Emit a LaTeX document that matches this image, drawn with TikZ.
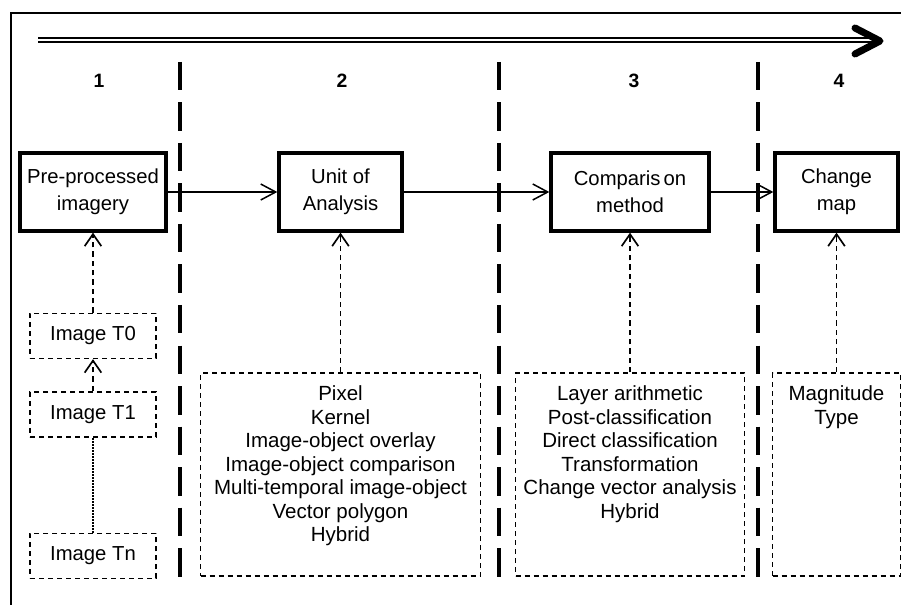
\documentclass[tikz,border=0pt]{standalone}
\usepackage{fontspec}
\setmainfont{Liberation Sans}
\usetikzlibrary{arrows.meta,positioning}

\begin{document}
\begin{tikzpicture}[
            x=0.3mm, y=-0.3mm,
            node distance=10mm,
            stage/.style={rectangle, draw, line width=1mm, minimum height=23.4mm, inner sep=0pt, align=center, font=\fontsize{17.3}{23}\selectfont},
            imgbox/.style={rectangle, draw, line width=0.45mm, dash pattern=on 1.5mm off 1.2mm, minimum width=37.8mm, minimum height=13.5mm, font=\fontsize{17.3}{20}\selectfont},
            listbox/.style={rectangle, draw, line width=0.45mm, dash pattern=on 1.5mm off 1.2mm, inner xsep=0pt, inner ysep=3.9mm, font=\fontsize{17.5}{20}\selectfont},
            flow/.style={-{Straight Barb[length=4.5mm,width=4.8mm]}, line width=0.45mm},
            feed/.style={-{Straight Barb[length=3.6mm,width=5mm]}, line width=0.5mm, dash pattern=on 1.6mm off 1.2mm},
            divider/.style={line width=1.05mm, dash pattern=on 8.55mm off 3.6mm},
            stepnum/.style={font=\fontsize{16.5}{18}\selectfont\bfseries}
        ]
            \useasboundingbox (0,0) rectangle (901,605);
            \draw[line width=0.6mm] (11,605) |- (901,13);

            % time arrow on top
            \coordinate (tl) at (38,40);
            \coordinate (tr) at (879,40);
            \coordinate (tip) at (880,41);
            \draw[line width=0.69mm, double, double distance=0.6mm] (tl) -- (tr);
            \draw[line width=2.1mm, line cap=round, line join=round] (855,28) -- (tip) -- (855,54);

            \foreach \n/\x in {1/99,2/342,3/634,4/839}
                \node[stepnum] (n\n) at (\x,81) {\n};
            \foreach \x in {180,499,758}
                \draw[divider] (\x,62) -- (\x,577);

            \node[stage, minimum width=43.8mm] (pre) at (93,192) {Pre-processed\\imagery};
            \node[stage, minimum width=36.9mm] (unit) at (340.5,192) {Unit of\\Analysis};
            \node[stage, minimum width=47.4mm] (comp) at (630,192) {Comparis\kern0.15em on\\method};
            \node[stage, minimum width=36.9mm] (chg) at (836.5,192) {Change\\map};

            \draw[flow] (pre) -- (unit);
            \draw[flow] (unit) -- (comp);
            \draw[flow] (comp) -- (chg);

            \node[imgbox, below=24mm of pre] (t0) {Image T0};
            \node[imgbox, below=9.6mm of t0] (t1) {Image T1};
            \node[imgbox, below=28.5mm of t1] (tn) {Image Tn};

            \draw[feed] (t0) -- (pre);
            \draw[feed] (t1) -- (t0);
            \draw[line width=0.45mm, dash pattern=on 0.45mm off 0.45mm] (tn) -- (t1);

            \node[listbox, below=41.9mm of unit] (unitlist) {\parbox[t][53.1mm][t]{84mm}{\centering Pixel\\Kernel\\Image-object overlay\\Image-object comparison\\Multi-temporal image-object\\Vector polygon\\Hybrid}};
            \node[listbox, below=41.9mm of comp] (complist) {\parbox[t][53.1mm][t]{68.7mm}{\centering Layer arithmetic\\Post-classification\\Direct classification\\Transformation\\Change vector analysis\\Hybrid}};
            \node[listbox, below=41.9mm of chg] (chglist) {\parbox[t][53.1mm][t]{38.4mm}{\centering Magnitude\\Type}};

            \draw[feed] (unitlist) -- (unit);
            \draw[feed] (complist) -- (comp);
            \draw[feed] (chglist) -- (chg);
        \end{tikzpicture}
\end{document}
